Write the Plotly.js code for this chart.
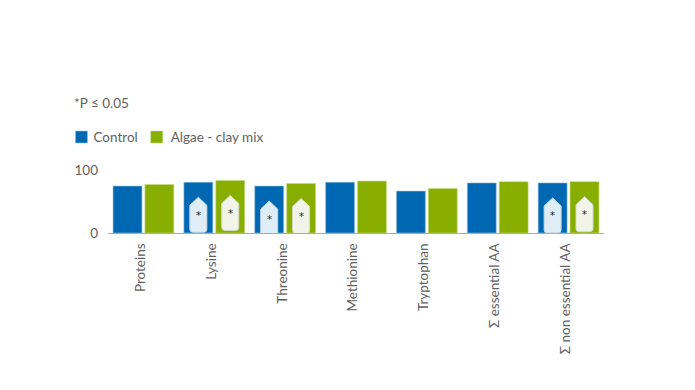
<!DOCTYPE html>
<html><head><meta charset="utf-8">
<script src="https://cdn.plot.ly/plotly-3.0.1.min.js"></script>
<style>html,body{margin:0;padding:0;background:#fff}</style></head>
<body><div id="chart" style="width:695px;height:390px"></div>
<script>
const categories = ["Proteins","Lysine","Threonine","Methionine","Tryptophan","Σ essential AA","Σ non essential AA"];
const control = [74.5,80.5,74.5,80.5,66.5,79.5,79.5];
const algae = [77,83.5,78.5,82.5,70.5,81.5,81.5];
const significant = [0,1,1,0,0,0,1];
const seriesNames = ["Control","Algae - clay mix"];
const note = "*P ≤ 0.05";
const FONT = "Lato, 'Open Sans', sans-serif";
const GREY = "#5f5f5f";

const shapes = [], annotations = [];
function callout(i, value, offset, fill, edge){
  shapes.push({type:"path", layer:"above", xref:"x", yref:"y",
    xsizemode:"pixel", ysizemode:"pixel", xanchor:i+offset, yanchor:value,
    path:"M0,-15 L8.5,-23 V-47 Q8.5,-50 5.5,-50 H-5.5 Q-8.5,-50 -8.5,-47 V-23 Z",
    fillcolor:fill, line:{color:edge,width:1}});
  annotations.push({xref:"x", yref:"y", x:i+offset, y:value, yshift:-33, text:"*", showarrow:false,
    font:{family:"DejaVu Sans",size:10,color:"#222"}});
}
categories.forEach((c,i)=>{
  if(significant[i]){
    callout(i,control[i],-0.225,"#deedf6","#c9d8e2");
    callout(i,algae[i],0.225,"#f1f4e7","#d5d9c8");
  }
});
annotations.push({xref:"paper",yref:"paper",x:-0.072,y:2.07,xanchor:"left",yanchor:"middle",showarrow:false,
  text:note,font:{family:FONT,size:13.5,color:GREY}});

Plotly.newPlot("chart",[
 {type:"bar",name:seriesNames[0],x:categories,y:control,marker:{color:"#0068b3",line:{color:"#8fc2e2",width:0.6}}},
 {type:"bar",name:seriesNames[1],x:categories,y:algae,marker:{color:"#88ae00",line:{color:"#c6da80",width:0.6}}}
],{
 width:695,height:390,paper_bgcolor:"#fff",plot_bgcolor:"#fff",
 margin:{l:108,r:91,t:170,b:156.5,pad:0},
 barmode:"group",bargap:0.1,bargroupgap:0.093,
 font:{family:FONT,size:13.5,color:GREY},
 showlegend:true,
 legend:{orientation:"h",x:-0.11,y:1.52,xanchor:"left",yanchor:"middle",font:{family:FONT,size:13.5,color:GREY},
   itemwidth:30,traceorder:"normal"},
 xaxis:{tickangle:-90,showline:true,linecolor:"#aaa",linewidth:1,ticks:"",showgrid:false,ticklabelstandoff:4,ticklabelshift:-3,
   tickfont:{family:FONT,size:13.5,color:GREY},automargin:false},
 yaxis:{range:[0,100],tickvals:[0,100],ticktext:["0","100"],showgrid:true,gridcolor:"#bbb",gridwidth:1,zeroline:false,
   showline:false,ticks:"",ticklabelstandoff:9,tickfont:{family:FONT,size:13.5,color:GREY},automargin:false},
 shapes:shapes,annotations:annotations
},{displayModeBar:false,staticPlot:true}).then(()=>{
  const items = document.querySelectorAll("#chart .legend .traces");
  items.forEach((item,k)=>{
    const g = item.querySelector(".legendsymbols");
    if(g) g.setAttribute("transform",(g.getAttribute("transform")||"")+" translate("+(k?6:8)+",0)");
    if(k) item.setAttribute("transform",(item.getAttribute("transform")||"")+" translate(-12,0)");
  });
});
</script></body></html>
